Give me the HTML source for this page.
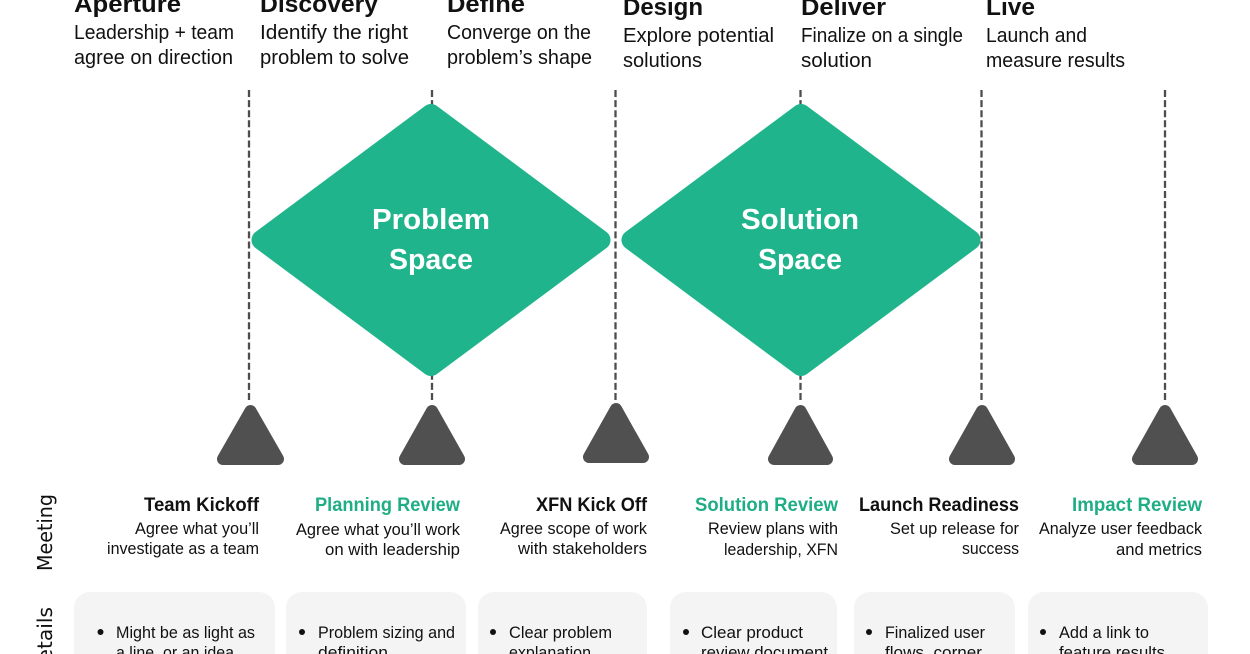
<!DOCTYPE html>
<html><head><meta charset="utf-8"><style>
html,body{margin:0;padding:0;background:#fff;width:1250px;height:654px;overflow:hidden}
svg{display:block}
text{font-family:"Liberation Sans",sans-serif;fill:#111}
.h{font-size:24px;font-weight:bold}
.s{font-size:20px}
.t{font-size:19px;font-weight:bold;text-anchor:end}
.g{fill:#1fae84}
.m{font-size:16.5px;text-anchor:end}
.b{font-size:16.5px}
.d{font-family:"DejaVu Sans",sans-serif;font-size:20px}
.w{font-size:29px;font-weight:bold;fill:#fff;text-anchor:middle}
</style></head><body>
<svg width="1250" height="654" viewBox="0 0 1250 654" xmlns="http://www.w3.org/2000/svg">
<rect width="1250" height="654" fill="#fff"/>
<g stroke="#4d4d4d" stroke-width="2.3" stroke-dasharray="7 3.1" fill="none">
<line x1="249" y1="90" x2="249" y2="400"/>
<line x1="432" y1="90" x2="432" y2="400"/>
<line x1="615.5" y1="90" x2="615.5" y2="400"/>
<line x1="800.5" y1="90" x2="800.5" y2="400"/>
<line x1="981.5" y1="90" x2="981.5" y2="400"/>
<line x1="1165" y1="90" x2="1165" y2="400"/>
</g>
<g fill="#20b48c" stroke="#20b48c" stroke-width="20" stroke-linejoin="round">
<polygon points="431,114 600.500,240 431,366 261.500,240"/>
<polygon points="801,114 970.500,240 801,366 631.500,240"/>
</g>
<g fill="#505050" stroke="#505050" stroke-width="12" stroke-linejoin="round">
<polygon points="250.500,411 223,459 278,459"/>
<polygon points="432,411 405,459 459,459"/>
<polygon points="616,409 589,457 643,457"/>
<polygon points="800.500,411 774,459 827,459"/>
<polygon points="982,411 955,459 1009,459"/>
<polygon points="1165,411 1138,459 1192,459"/>
</g>
<text class="w" x="431" y="229" textLength="118" lengthAdjust="spacingAndGlyphs">Problem</text>
<text class="w" x="431" y="269" textLength="84" lengthAdjust="spacingAndGlyphs">Space</text>
<text class="w" x="800" y="229" textLength="118" lengthAdjust="spacingAndGlyphs">Solution</text>
<text class="w" x="800" y="269" textLength="84" lengthAdjust="spacingAndGlyphs">Space</text>

<text class="h" x="74" y="12" textLength="107" lengthAdjust="spacingAndGlyphs">Aperture</text>
<text class="h" x="260" y="12" textLength="118" lengthAdjust="spacingAndGlyphs">Discovery</text>
<text class="h" x="447" y="12" textLength="78" lengthAdjust="spacingAndGlyphs">Define</text>
<text class="h" x="623" y="15" textLength="80" lengthAdjust="spacingAndGlyphs">Design</text>
<text class="h" x="801" y="15" textLength="85" lengthAdjust="spacingAndGlyphs">Deliver</text>
<text class="h" x="986" y="15" textLength="49" lengthAdjust="spacingAndGlyphs">Live</text>

<text class="s" x="74" y="39" textLength="160" lengthAdjust="spacingAndGlyphs">Leadership + team</text>
<text class="s" x="74" y="64" textLength="159" lengthAdjust="spacingAndGlyphs">agree on direction</text>
<text class="s" x="260" y="39" textLength="148" lengthAdjust="spacingAndGlyphs">Identify the right</text>
<text class="s" x="260" y="64" textLength="149" lengthAdjust="spacingAndGlyphs">problem to solve</text>
<text class="s" x="447" y="39" textLength="144" lengthAdjust="spacingAndGlyphs">Converge on the</text>
<text class="s" x="447" y="64" textLength="145" lengthAdjust="spacingAndGlyphs">problem’s shape</text>
<text class="s" x="623" y="42" textLength="151" lengthAdjust="spacingAndGlyphs">Explore potential</text>
<text class="s" x="623" y="67" textLength="79" lengthAdjust="spacingAndGlyphs">solutions</text>
<text class="s" x="801" y="42" textLength="162" lengthAdjust="spacingAndGlyphs">Finalize on a single</text>
<text class="s" x="801" y="67" textLength="71" lengthAdjust="spacingAndGlyphs">solution</text>
<text class="s" x="986" y="42" textLength="101" lengthAdjust="spacingAndGlyphs">Launch and</text>
<text class="s" x="986" y="67" textLength="139" lengthAdjust="spacingAndGlyphs">measure results</text>

<text class="t" x="259" y="511" textLength="115" lengthAdjust="spacingAndGlyphs">Team Kickoff</text>
<text class="t g" x="460" y="511" textLength="145" lengthAdjust="spacingAndGlyphs">Planning Review</text>
<text class="t" x="647" y="511" textLength="111" lengthAdjust="spacingAndGlyphs">XFN Kick Off</text>
<text class="t g" x="838" y="511" textLength="143" lengthAdjust="spacingAndGlyphs">Solution Review</text>
<text class="t" x="1019" y="511" textLength="160" lengthAdjust="spacingAndGlyphs">Launch Readiness</text>
<text class="t g" x="1202" y="511" textLength="130" lengthAdjust="spacingAndGlyphs">Impact Review</text>

<text class="m" x="259" y="534" textLength="124" lengthAdjust="spacingAndGlyphs">Agree what you’ll</text>
<text class="m" x="259" y="554" textLength="152" lengthAdjust="spacingAndGlyphs">investigate as a team</text>
<text class="m" x="460" y="535" textLength="164" lengthAdjust="spacingAndGlyphs">Agree what you’ll work</text>
<text class="m" x="460" y="555" textLength="135" lengthAdjust="spacingAndGlyphs">on with leadership</text>
<text class="m" x="647" y="534" textLength="147" lengthAdjust="spacingAndGlyphs">Agree scope of work</text>
<text class="m" x="647" y="554" textLength="129" lengthAdjust="spacingAndGlyphs">with stakeholders</text>
<text class="m" x="838" y="534" textLength="130" lengthAdjust="spacingAndGlyphs">Review plans with</text>
<text class="m" x="838" y="555" textLength="114" lengthAdjust="spacingAndGlyphs">leadership, XFN</text>
<text class="m" x="1019" y="534" textLength="129" lengthAdjust="spacingAndGlyphs">Set up release for</text>
<text class="m" x="1019" y="554" textLength="57" lengthAdjust="spacingAndGlyphs">success</text>
<text class="m" x="1202" y="534" textLength="163" lengthAdjust="spacingAndGlyphs">Analyze user feedback</text>
<text class="m" x="1202" y="555" textLength="86" lengthAdjust="spacingAndGlyphs">and metrics</text>

<g fill="#f4f4f4">
<rect x="74" y="592" width="201" height="90" rx="16"/>
<rect x="286" y="592" width="180" height="90" rx="16"/>
<rect x="478" y="592" width="169" height="90" rx="16"/>
<rect x="670" y="592" width="167" height="90" rx="16"/>
<rect x="854" y="592" width="161" height="90" rx="16"/>
<rect x="1028" y="592" width="180" height="90" rx="16"/>
</g>
<g fill="#111">
<circle cx="100.500" cy="632" r="3"/>
<circle cx="302" cy="632" r="3"/>
<circle cx="493" cy="632" r="3"/>
<circle cx="686" cy="632" r="3"/>
<circle cx="869" cy="632" r="3"/>
<circle cx="1043" cy="632" r="3"/>
</g>
<text class="b" x="116" y="638" textLength="139" lengthAdjust="spacingAndGlyphs">Might be as light as</text>
<text class="b" x="116" y="658" textLength="118" lengthAdjust="spacingAndGlyphs">a line, or an idea</text>
<text class="b" x="318" y="638" textLength="137" lengthAdjust="spacingAndGlyphs">Problem sizing and</text>
<text class="b" x="318" y="658" textLength="70" lengthAdjust="spacingAndGlyphs">definition</text>
<text class="b" x="509" y="638" textLength="103" lengthAdjust="spacingAndGlyphs">Clear problem</text>
<text class="b" x="509" y="658" textLength="82" lengthAdjust="spacingAndGlyphs">explanation</text>
<text class="b" x="701" y="638" textLength="102" lengthAdjust="spacingAndGlyphs">Clear product</text>
<text class="b" x="701" y="658" textLength="127" lengthAdjust="spacingAndGlyphs">review document</text>
<text class="b" x="885" y="638" textLength="100" lengthAdjust="spacingAndGlyphs">Finalized user</text>
<text class="b" x="885" y="658" textLength="97" lengthAdjust="spacingAndGlyphs">flows, corner</text>
<text class="b" x="1059" y="638" textLength="90" lengthAdjust="spacingAndGlyphs">Add a link to</text>
<text class="b" x="1059" y="658" textLength="106" lengthAdjust="spacingAndGlyphs">feature results</text>

<text class="d" transform="translate(52,571) rotate(-90)" textLength="77" lengthAdjust="spacingAndGlyphs">Meeting</text>
<text class="d" transform="translate(52,677) rotate(-90)" textLength="70" lengthAdjust="spacingAndGlyphs">Details</text>
</svg>
</body></html>
